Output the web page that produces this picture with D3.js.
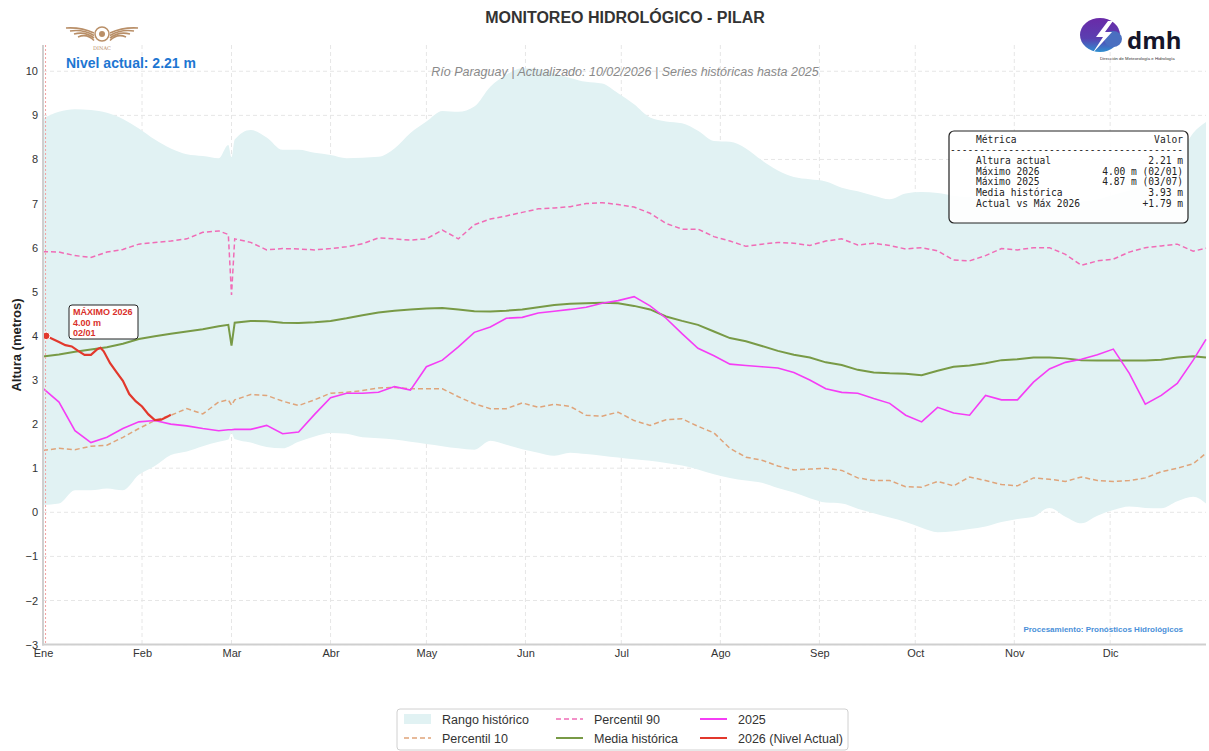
<!DOCTYPE html>
<html>
<head>
<meta charset="utf-8">
<script src="https://cdn.jsdelivr.net/npm/d3@7"></script>
<style>
  body { margin: 0; background: #fff; }
  svg { font-family: "Liberation Sans", Arial, sans-serif; }
  .grid line { stroke: #e6e6e6; stroke-dasharray: 4,3; }
  .tick text { fill: #333; font-size: 11px; }
</style>
</head>
<body>
<div id="chart"></div>
<script>
// dia del año (0 = 1 de enero)
var dias = [0,5,10,15,20,25,30,35,40,45,50,55,58,59,60,65,70,75,80,85,90,95,100,105,110,115,120,125,130,135,140,145,150,155,160,165,170,175,180,185,190,195,200,205,210,215,220,225,230,235,240,245,250,255,260,265,270,275,280,285,290,295,300,305,310,315,320,325,330,335,340,345,350,355,360,364];

var rangoMax = [8.93,9.08,9.14,9.12,9.06,8.92,8.7,8.45,8.25,8.12,8.08,8.03,8.33,8.05,8.45,8.67,8.5,8.22,8.22,8.15,8.1,8.03,8.04,8.06,8.25,8.6,8.86,9.1,9.08,9.2,9.65,9.92,10.07,10.05,9.95,9.85,9.76,9.72,9.5,9.25,8.95,8.86,8.82,8.65,8.42,8.4,8.25,7.98,7.75,7.6,7.55,7.5,7.36,7.28,7.18,7.1,7.23,7.26,7.24,7.18,7.15,7.12,7.1,7.07,7.05,7.02,7.0,7.05,7.1,7.2,7.3,7.45,7.6,8.0,8.6,8.85];
var rangoMin = [0.17,0.2,0.5,0.5,0.54,0.5,0.85,1.05,1.3,1.38,1.5,1.6,1.65,1.8,1.66,1.58,1.48,1.45,1.6,1.72,1.8,1.78,1.7,1.68,1.65,1.6,1.55,1.5,1.45,1.42,1.62,1.53,1.43,1.35,1.28,1.35,1.32,1.28,1.24,1.2,1.17,1.12,1.06,0.97,0.86,0.78,0.72,0.67,0.55,0.45,0.32,0.22,0.2,0.08,-0.02,-0.12,-0.22,-0.35,-0.45,-0.43,-0.38,-0.32,-0.22,-0.15,-0.1,0.1,-0.1,-0.25,-0.08,0.05,0.13,0.1,0.09,0.25,0.35,0.2];
var percentil90 = [5.91,5.9,5.82,5.78,5.9,5.96,6.08,6.12,6.15,6.2,6.35,6.38,6.3,4.93,6.2,6.12,5.95,5.98,5.97,5.95,5.98,6.02,6.09,6.22,6.2,6.17,6.2,6.4,6.2,6.52,6.65,6.72,6.8,6.88,6.9,6.93,7.0,7.02,6.98,6.92,6.78,6.55,6.42,6.42,6.25,6.15,6.03,6.08,6.12,6.1,6.05,6.15,6.2,6.06,6.1,6.05,5.97,6.0,5.93,5.72,5.7,5.82,5.98,5.95,6.0,6.0,5.85,5.6,5.7,5.74,5.9,6.0,6.04,6.08,5.92,5.99];
var percentil10 = [1.4,1.45,1.42,1.5,1.52,1.7,1.9,2.08,2.2,2.35,2.23,2.5,2.55,2.43,2.55,2.67,2.65,2.52,2.42,2.55,2.7,2.72,2.76,2.82,2.83,2.8,2.8,2.8,2.62,2.46,2.35,2.35,2.48,2.38,2.45,2.4,2.2,2.18,2.27,2.08,1.97,2.1,2.12,1.95,1.8,1.45,1.25,1.18,1.05,0.96,0.98,1.0,0.95,0.78,0.72,0.72,0.58,0.57,0.7,0.6,0.8,0.72,0.63,0.6,0.78,0.75,0.7,0.8,0.72,0.7,0.72,0.78,0.92,1.0,1.1,1.34];
var mediaHistorica = [3.53,3.58,3.64,3.69,3.74,3.82,3.93,3.99,4.05,4.1,4.15,4.22,4.25,3.78,4.3,4.34,4.33,4.3,4.29,4.31,4.34,4.4,4.47,4.53,4.57,4.6,4.62,4.63,4.6,4.56,4.55,4.57,4.6,4.65,4.7,4.73,4.74,4.75,4.74,4.68,4.6,4.44,4.34,4.25,4.1,3.95,3.88,3.77,3.66,3.57,3.51,3.4,3.34,3.23,3.17,3.15,3.14,3.11,3.21,3.3,3.33,3.38,3.45,3.47,3.51,3.51,3.49,3.45,3.44,3.44,3.44,3.44,3.46,3.51,3.54,3.51];
var serie2025 = [2.81,2.5,1.85,1.58,1.7,1.9,2.05,2.08,2.0,1.96,1.9,1.85,1.87,1.87,1.88,1.88,1.97,1.78,1.82,2.22,2.6,2.7,2.7,2.72,2.85,2.77,3.3,3.45,3.75,4.08,4.2,4.4,4.42,4.52,4.56,4.6,4.65,4.74,4.8,4.89,4.68,4.4,4.05,3.72,3.55,3.36,3.33,3.3,3.27,3.17,3.0,2.8,2.72,2.7,2.58,2.47,2.2,2.05,2.38,2.25,2.2,2.65,2.55,2.55,2.95,3.25,3.4,3.47,3.57,3.7,3.15,2.45,2.65,2.92,3.45,3.92];

var dias2026 = [1,3,5,7,9,11,13,15,17,18,19,21,23,25,27,29,31,33,35,37,39,40];
var nivel2026 = [4.0,3.93,3.86,3.79,3.76,3.66,3.57,3.57,3.7,3.73,3.65,3.38,3.18,2.98,2.68,2.52,2.4,2.22,2.09,2.1,2.17,2.21];

var mesesInicio = [0,31,59,90,120,151,181,212,243,273,304,334];
var mesesEtiqueta = ["Ene","Feb","Mar","Abr","May","Jun","Jul","Ago","Sep","Oct","Nov","Dic"];
var yTicks = [-3,-2,-1,0,1,2,3,4,5,6,7,8,9,10];

var tablaMetricas = ["Altura actual","Máximo 2026","Máximo 2025","Media histórica","Actual vs Máx 2026"];
var tablaValores = ["2.21 m","4.00 m (02/01)","4.87 m (03/07)","3.93 m","+1.79 m"];

var colores = {
    rango: "#e1f2f3",
    p90: "#f06cb6",
    p10: "#dfa47a",
    media: "#789a46",
    s2025: "#f53df5",
    s2026: "#e2382c"
};

var W = 1209, H = 751;
var svg = d3.select("#chart").append("svg").attr("width", W).attr("height", H);

var x = d3.scaleLinear().domain([0, 364]).range([43, 1206]);
var y = d3.scaleLinear().domain([-3, 10.6]).range([644.6, 44.8]);

// Grid
svg.append("g").attr("class", "grid")
    .selectAll("line").data(yTicks).enter().append("line")
    .attr("x1", 43).attr("x2", 1206)
    .attr("y1", d => y(d)).attr("y2", d => y(d));
svg.append("g").attr("class", "grid")
    .selectAll("line").data(mesesInicio).enter().append("line")
    .attr("x1", d => x(d)).attr("x2", d => x(d))
    .attr("y1", 45).attr("y2", 644.6);

// Rango historico
var area = d3.area()
    .x((d, i) => x(dias[i]))
    .y0((d, i) => y(rangoMin[i]))
    .y1((d, i) => y(rangoMax[i]))
    .curve(d3.curveMonotoneX);
svg.append("path").datum(dias).attr("d", area).attr("fill", colores.rango);

function linea(xs, ys) {
    return d3.line().x((d, i) => x(xs[i])).y((d, i) => y(ys[i]))(xs);
}

svg.append("path").attr("d", linea(dias, percentil90))
    .attr("fill", "none").attr("stroke", colores.p90).attr("stroke-width", 1.5).attr("stroke-dasharray", "5,3");
svg.append("path").attr("d", linea(dias, percentil10))
    .attr("fill", "none").attr("stroke", colores.p10).attr("stroke-width", 1.5).attr("stroke-dasharray", "5,3");
svg.append("path").attr("d", linea(dias, mediaHistorica))
    .attr("fill", "none").attr("stroke", colores.media).attr("stroke-width", 2);
svg.append("path").attr("d", linea(dias, serie2025))
    .attr("fill", "none").attr("stroke", colores.s2025).attr("stroke-width", 1.6);
svg.append("path").attr("d", linea(dias2026, nivel2026))
    .attr("fill", "none").attr("stroke", colores.s2026).attr("stroke-width", 2.2);

// linea roja fecha
svg.append("line").attr("x1", x(0.8)).attr("x2", x(0.8)).attr("y1", 45).attr("y2", 644.6)
    .attr("stroke", "#f2a0a0").attr("stroke-width", 1).attr("stroke-dasharray", "2,2");

// Punto maximo 2026
svg.append("circle").attr("cx", x(dias2026[0])).attr("cy", y(nivel2026[0])).attr("r", 3.8)
    .attr("fill", colores.s2026).attr("stroke", "#fff").attr("stroke-width", 1);

// Anotacion
var anot = svg.append("g");
anot.append("rect").attr("x", 69).attr("y", 305).attr("width", 69).attr("height", 34).attr("rx", 3)
    .attr("fill", "#fff").attr("stroke", "#222").attr("stroke-width", 1);
["MÁXIMO 2026", "4.00 m", "02/01"].forEach(function (t, i) {
    anot.append("text").attr("x", 73).attr("y", 315 + i * 10.5).text(t)
        .attr("fill", "#d9302a").attr("font-weight", "bold").attr("font-size", "9px");
});

// Ejes
var yAxis = svg.append("g").attr("transform", "translate(43,0)").attr("color", "#333")
    .call(d3.axisLeft(y).tickValues(yTicks).tickSize(0).tickPadding(5).tickFormat(d => d < 0 ? "\u2212" + Math.abs(d) : d));
yAxis.select(".domain").remove();
var xAxis = svg.append("g").attr("transform", "translate(0,644.6)").attr("color", "#333")
    .call(d3.axisBottom(x).tickValues(mesesInicio).tickSize(0).tickPadding(5).tickFormat((d, i) => mesesEtiqueta[i]));
xAxis.select(".domain").remove();
svg.selectAll(".tick text").attr("fill", "#333");
svg.append("line").attr("x1", 43).attr("x2", 43).attr("y1", 45).attr("y2", 645.6).attr("stroke", "#cfcfcf").attr("stroke-width", 2);
svg.append("line").attr("x1", 42).attr("x2", 1206).attr("y1", 644.6).attr("y2", 644.6).attr("stroke", "#cfcfcf").attr("stroke-width", 2);

svg.append("text").attr("transform", "translate(21,345) rotate(-90)").attr("text-anchor", "middle")
    .attr("font-weight", "bold").attr("font-size", "13px").attr("fill", "#222").text("Altura (metros)");

// Titulos
svg.append("text").attr("x", 625).attr("y", 23).attr("text-anchor", "middle")
    .attr("font-weight", "bold").attr("font-size", "16px").attr("fill", "#333").text("MONITOREO HIDROLÓGICO - PILAR");
svg.append("text").attr("x", 625).attr("y", 76).attr("text-anchor", "middle")
    .attr("font-style", "italic").attr("font-size", "12.5px").attr("fill", "#8a8a8a")
    .text("Río Paraguay | Actualizado: 10/02/2026 | Series históricas hasta 2025");
svg.append("text").attr("x", 66).attr("y", 68).attr("font-weight", "bold").attr("font-size", "14px")
    .attr("fill", "#1d76d2").text("Nivel actual: 2.21 m");
svg.append("text").attr("x", 1183).attr("y", 632).attr("text-anchor", "end").attr("font-weight", "bold")
    .attr("font-size", "8px").attr("fill", "#4a90d9").text("Procesamiento: Pronósticos Hidrológicos");

// Tabla
var tabla = svg.append("g").attr("font-family", "'DejaVu Sans Mono', monospace").attr("font-size", "9.6px").attr("fill", "#222");
tabla.append("rect").attr("x", 949).attr("y", 131).attr("width", 239).attr("height", 92).attr("rx", 5)
    .attr("fill", "#fff").attr("fill-opacity", 0.92).attr("stroke", "#222").attr("stroke-width", 1.2);
tabla.append("text").attr("x", 976).attr("y", 143).text("Métrica");
tabla.append("text").attr("x", 1183).attr("y", 143).attr("text-anchor", "end").text("Valor");
tabla.append("text").attr("x", 950).attr("y", 153).attr("textLength", 233).attr("lengthAdjust", "spacing").text("-".repeat(40));
tablaMetricas.forEach(function (m, i) {
    tabla.append("text").attr("x", 976).attr("y", 164 + i * 10.7).text(m);
    tabla.append("text").attr("x", 1183).attr("y", 164 + i * 10.7).attr("text-anchor", "end").text(tablaValores[i]);
});

// Leyenda
var leg = svg.append("g");
leg.append("rect").attr("x", 397).attr("y", 709).attr("width", 451).attr("height", 41).attr("rx", 3)
    .attr("fill", "#fff").attr("stroke", "#d0d0d0");
var items = [
    { t: "Rango histórico", c: 0, r: 0, tipo: "area", col: colores.rango },
    { t: "Percentil 10", c: 0, r: 1, tipo: "dash", col: colores.p10 },
    { t: "Percentil 90", c: 1, r: 0, tipo: "dash", col: colores.p90 },
    { t: "Media histórica", c: 1, r: 1, tipo: "line", col: colores.media },
    { t: "2025", c: 2, r: 0, tipo: "line", col: colores.s2025 },
    { t: "2026 (Nivel Actual)", c: 2, r: 1, tipo: "line", col: colores.s2026 }
];
var colX = [404, 556, 700];
items.forEach(function (it) {
    var x0 = colX[it.c], yc = 719 + it.r * 19;
    if (it.tipo == "area") {
        leg.append("rect").attr("x", x0).attr("y", yc - 5).attr("width", 27).attr("height", 10).attr("fill", it.col);
    } else {
        leg.append("line").attr("x1", x0).attr("x2", x0 + 27).attr("y1", yc).attr("y2", yc)
            .attr("stroke", it.col).attr("stroke-width", it.tipo == "dash" ? 1.6 : 2)
            .attr("stroke-dasharray", it.tipo == "dash" ? "5,3" : null);
    }
    leg.append("text").attr("x", x0 + 38).attr("y", yc + 4.5).attr("font-size", "12.5px").attr("fill", "#333").text(it.t);
});

// Logo DINAC (aprox.)
var dinac = svg.append("g").attr("fill", "#b98f68").attr("stroke", "#b98f68");
[-1, 1].forEach(function (s) {
    for (var k = 0; k < 4; k++) {
        var len = 26 - k * 4;
        dinac.append("path").attr("stroke-width", 1.6).attr("fill", "none")
            .attr("d", "M" + (102 + s * 8) + "," + (33 + k * 2.5) + " Q" + (102 + s * (8 + len * 0.5)) + "," + (27 + k * 2) + " " + (102 + s * (8 + len + 2)) + "," + (28 + k * 3));
    }
});
dinac.append("circle").attr("cx", 102).attr("cy", 34).attr("r", 7).attr("fill", "none").attr("stroke-width", 1.5);
dinac.append("circle").attr("cx", 102).attr("cy", 34).attr("r", 3).attr("stroke", "none");
svg.append("text").attr("x", 102).attr("y", 50).attr("text-anchor", "middle").attr("font-family", "'DejaVu Serif', serif")
    .attr("font-size", "5px").attr("fill", "#b98f68").text("DINAC");

// Logo dmh (aprox.)
var defs = svg.append("defs");
var grad = defs.append("linearGradient").attr("id", "gdmh").attr("x1", "0").attr("y1", "0").attr("x2", "0").attr("y2", "1");
grad.append("stop").attr("offset", "0").attr("stop-color", "#6a2aa8");
grad.append("stop").attr("offset", "0.6").attr("stop-color", "#5a3fb0");
grad.append("stop").attr("offset", "1").attr("stop-color", "#2f8fd0");
svg.append("ellipse").attr("cx", 1100).attr("cy", 35).attr("rx", 20).attr("ry", 17).attr("fill", "url(#gdmh)");
svg.append("ellipse").attr("cx", 1113).attr("cy", 39).attr("rx", 9).attr("ry", 8).attr("fill", "#4a6fc0");
svg.append("path").attr("d", "M1108,21 L1096,37 L1103,37 L1092,54 L1112,32 L1105,32 L1113,21 Z").attr("fill", "#fff");
svg.append("text").attr("x", 1127).attr("y", 49).attr("font-family", "'Open Sans', sans-serif").attr("font-weight", "bold")
    .attr("font-size", "24px").attr("fill", "#15152a").text("dmh");
svg.append("text").attr("x", 1100).attr("y", 60).attr("font-size", "4.3px").attr("fill", "#333")
    .text("Dirección de Meteorología e Hidrología");
</script>
</body>
</html>
